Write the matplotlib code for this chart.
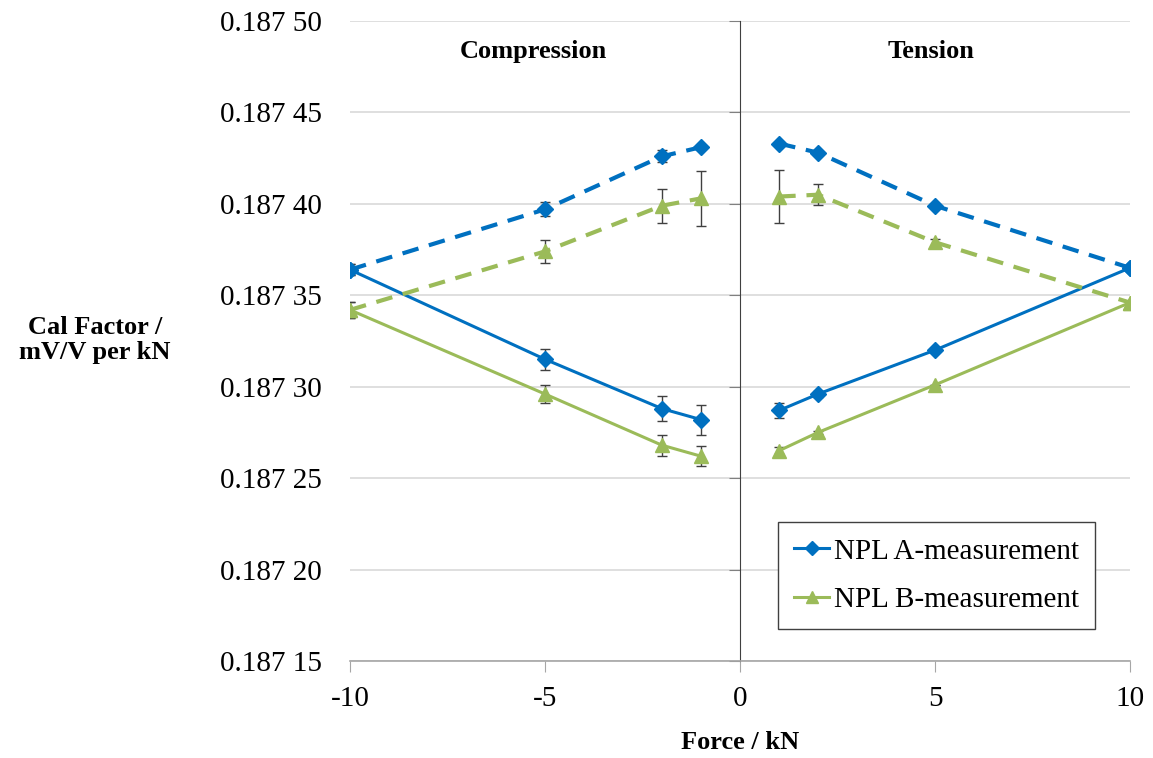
"""
Cal factor vs force, NPL A/B measurements (compression & tension)
"""

import matplotlib
matplotlib.use('Agg')
import matplotlib.pyplot as plt
from matplotlib.lines import Line2D
from matplotlib.ticker import FuncFormatter

plt.rcParams['font.family'] = ['Liberation Serif', 'DejaVu Serif']

BLUE = '#0070C0'
GREEN = '#9BBB59'
ERR = '#404040'

x_comp = [-10, -5, -2, -1]
x_tens = [1, 2, 5, 10]

# A-measurement (blue)
a_solid_comp = [0.187364, 0.187315, 0.187288, 0.187282]
a_solid_comp_err = [0.0000030, 0.0000056, 0.0000069, 0.0000082]
a_dash_comp = [0.187364, 0.187397, 0.187426, 0.187431]
a_dash_comp_err = [0.0000030, 0.0000039, 0.0000032, 0.0]
a_solid_tens = [0.187287, 0.187296, 0.187320, 0.187365]
a_solid_tens_err = [0.0000040, 0.0000015, 0.0, 0.0]
a_dash_tens = [0.187433, 0.187428, 0.187399, 0.187365]
a_dash_tens_err = [0.0000010, 0.0000010, 0.0000010, 0.0]

# B-measurement (green)
b_solid_comp = [0.187342, 0.187296, 0.187268, 0.187262]
b_solid_comp_err = [0.0000044, 0.0000048, 0.0000057, 0.0000055]
b_dash_comp = [0.187342, 0.187374, 0.187399, 0.187403]
b_dash_comp_err = [0.0000044, 0.0000061, 0.0000092, 0.0000149]
b_solid_tens = [0.187265, 0.187275, 0.187301, 0.187346]
b_solid_tens_err = [0.0000020, 0.0000010, 0.0, 0.0000010]
b_dash_tens = [0.187404, 0.187405, 0.187379, 0.187346]
b_dash_tens_err = [0.0000145, 0.0000056, 0.0000020, 0.0000010]

yticks = [0.18715, 0.18720, 0.18725, 0.18730, 0.18735, 0.18740, 0.18745, 0.18750]
xticks = [-10, -5, 0, 5, 10]
xticklabels = ['-10', '-5', '0', '5', '10']

fig = plt.figure(figsize=(11.53, 7.58), dpi=100)
ax = fig.add_axes([350/1153, 1-661/758, 780/1153, 640/758])

def series(x, y, err, color, marker, ms, dashed):
    ax.errorbar(x, y, yerr=err, fmt='none', ecolor=ERR, elinewidth=1,
                capsize=3.5, capthick=1, zorder=2)
    ax.plot(x, y, color=color, lw=3 if dashed else 2.2,
            ls=(0, (4, 2.6)) if dashed else '-',
            marker=marker, ms=ms, mec=color, mfc=color, zorder=3)

for x, y, e in [(x_comp, a_solid_comp, a_solid_comp_err), (x_comp, a_dash_comp, a_dash_comp_err),
                (x_tens, a_solid_tens, a_solid_tens_err), (x_tens, a_dash_tens, a_dash_tens_err)]:
    series(x, y, e, BLUE, 'D', 8, y in (a_dash_comp, a_dash_tens))
for x, y, e in [(x_comp, b_solid_comp, b_solid_comp_err), (x_comp, b_dash_comp, b_dash_comp_err),
                (x_tens, b_solid_tens, b_solid_tens_err), (x_tens, b_dash_tens, b_dash_tens_err)]:
    series(x, y, e, GREEN, '^', 10, y in (b_dash_comp, b_dash_tens))

ax.set_xlim(-10, 10)
ax.set_ylim(0.18715, 0.18750)
ax.set_yticks(yticks)
ax.set_xticks(xticks, xticklabels)
ax.grid(axis='y', color='#D9D9D9', lw=1.2, zorder=0)
ax.set_axisbelow(True)

# vertical axis drawn through x = 0, labels kept on the left
ax.spines['left'].set_position(('data', 0))
ax.spines['left'].set_color('#404040')
ax.spines['right'].set_visible(False)
ax.spines['top'].set_visible(False)
ax.spines['bottom'].set_color('#A6A6A6')
ax.spines['bottom'].set_linewidth(1.2)
ax.tick_params(axis='y', direction='out', length=8, color='#808080', labelleft=False)
ax.tick_params(axis='x', direction='out', length=8, color='#A6A6A6', labelsize=21, pad=10)

def fmt(v, pos):
    s = '%.5f' % v
    return s[:5] + ' ' + s[5:]

sec = ax.secondary_yaxis(0)
sec.spines['left'].set_visible(False)
sec.set_yticks(yticks)
sec.yaxis.set_major_formatter(FuncFormatter(fmt))
sec.tick_params(axis='y', length=0, labelsize=21, pad=20)

ax.set_xlabel('Force / kN', fontsize=19, fontweight='bold', labelpad=14)
fig.text(95/1153, 1-340/758, 'Cal Factor /\nmV/V per kN', ha='center', va='center',
         fontsize=19, fontweight='bold', linespacing=1.15)

ax.text(0.235, 0.953, 'Compression', transform=ax.transAxes, ha='center', va='center',
        fontsize=19, fontweight='bold')
ax.text(0.745, 0.953, 'Tension', transform=ax.transAxes, ha='center', va='center',
        fontsize=19, fontweight='bold')

handles = [Line2D([], [], color=BLUE, lw=2.2, marker='D', ms=7),
           Line2D([], [], color=GREEN, lw=2.2, marker='^', ms=9)]
leg = ax.legend(handles, ['NPL A-measurement', 'NPL B-measurement'],
                loc='upper left', bbox_to_anchor=(0.549, 0.217), fontsize=21,
                frameon=True, fancybox=False, edgecolor='#404040', framealpha=1,
                handlelength=1.2, handletextpad=0.15, borderpad=0.55, labelspacing=0.75,
                borderaxespad=0)
leg.get_frame().set_linewidth(1)

fig.savefig('out.png', dpi=100)
